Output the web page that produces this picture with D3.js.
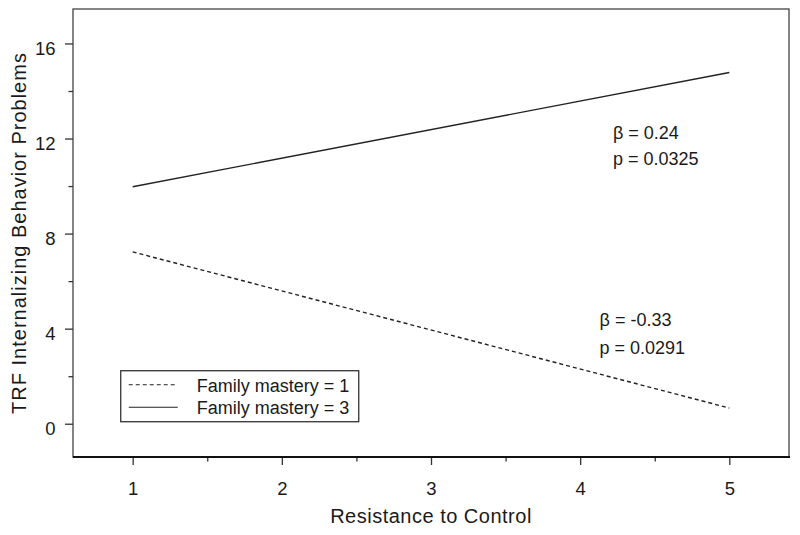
<!DOCTYPE html>
<html>
<head>
<meta charset="utf-8">
<script src="https://cdn.jsdelivr.net/npm/d3@7/dist/d3.min.js"></script>
<style>
  body { margin: 0; background: #fff; }
  svg text { font-family: "Liberation Sans", Arial, sans-serif; fill: #1a1a1a; }
</style>
</head>
<body>
<div id="chart"></div>
<script>
// data
var resistance = [1, 5];
var mastery1 = [7.23, 0.66];   // dashed
var mastery3 = [9.97, 14.78];  // solid
var xTicks = [1, 2, 3, 4, 5];
var xMinor = [1.5, 2.5, 3.5, 4.5];
var yTicks = [0, 4, 8, 12, 16];
var yMinor = [2, 6, 10, 14];
var seriesNames = ["Family mastery = 1", "Family mastery = 3"];
var notes = [
    {x: 4.22, y: 12.0, text: "\u03B2 = 0.24"},
    {x: 4.22, y: 10.9, text: "p = 0.0325"},
    {x: 4.13, y: 4.1, text: "\u03B2 = -0.33"},
    {x: 4.13, y: 2.92, text: "p = 0.0291"}
];

var cfg = {
    width: 800,
    height: 535,
    margin: {top: 9, right: 11, bottom: 78, left: 73}
};
var W = cfg.width - cfg.margin.left - cfg.margin.right,
    H = cfg.height - cfg.margin.top - cfg.margin.bottom;

var x = d3.scaleLinear().domain([0.6, 5.4]).range([0, W]);
var y = d3.scaleLinear().domain([-1.4, 17.45]).range([H, 0]);

var svg = d3.select("#chart").append("svg")
    .attr("width", cfg.width)
    .attr("height", cfg.height);

var g = svg.append("g")
    .attr("transform", "translate(" + cfg.margin.left + "," + cfg.margin.top + ")");

// frame
g.append("rect")
    .attr("x", 0).attr("y", 0)
    .attr("width", W).attr("height", H)
    .attr("fill", "none")
    .attr("stroke", "#444")
    .attr("stroke-width", 1.3);

// axes
var xAxis = g.append("g")
    .attr("transform", "translate(0," + H + ")")
    .call(d3.axisBottom(x).tickValues(xTicks).tickFormat(d3.format("d"))
          .tickSize(8).tickSizeOuter(0).tickPadding(16.5));
var xAxisMinor = g.append("g")
    .attr("transform", "translate(0," + H + ")")
    .call(d3.axisBottom(x).tickValues(xMinor).tickFormat("").tickSize(4.5).tickSizeOuter(0));

var yAxis = g.append("g")
    .call(d3.axisLeft(y).tickValues(yTicks).tickFormat(d3.format("d"))
          .tickSize(8).tickSizeOuter(0).tickPadding(9.5));
var yAxisMinor = g.append("g")
    .call(d3.axisLeft(y).tickValues(yMinor).tickFormat("").tickSize(4.5).tickSizeOuter(0));

[xAxis, xAxisMinor, yAxis, yAxisMinor].forEach(function(a) {
    a.select(".domain").remove();
    a.selectAll("line").attr("stroke", "#333").attr("stroke-width", 1.3);
    a.selectAll("text").style("font-size", "18.5px").attr("fill", "#1a1a1a");
});
yAxis.selectAll("text").attr("dy", "0.6em");

// thicker bottom axis line
g.append("line")
    .attr("x1", 0).attr("x2", W + 1)
    .attr("y1", H).attr("y2", H)
    .attr("stroke", "#111")
    .attr("stroke-width", 2);

// lines
var line = d3.line()
    .x(function(d) { return x(d[0]); })
    .y(function(d) { return y(d[1]); });

g.append("path")
    .datum(d3.zip(resistance, mastery3))
    .attr("d", line)
    .attr("fill", "none")
    .attr("stroke", "#222")
    .attr("stroke-width", 1.4);

g.append("path")
    .datum(d3.zip(resistance, mastery1))
    .attr("d", line)
    .attr("fill", "none")
    .attr("stroke", "#222")
    .attr("stroke-width", 1.4)
    .attr("stroke-dasharray", "4,3");

// annotations
g.selectAll(".note")
    .data(notes)
    .enter().append("text")
    .attr("class", "note")
    .attr("x", function(d) { return x(d.x); })
    .attr("y", function(d) { return y(d.y); })
    .style("font-size", "18px")
    .text(function(d) { return d.text; });

// legend
var legend = g.append("g")
    .attr("transform", "translate(" + x(0.92) + "," + y(2.23) + ")");
legend.append("rect")
    .attr("width", 238)
    .attr("height", 51)
    .attr("fill", "#fff")
    .attr("stroke", "#333")
    .attr("stroke-width", 1.3);
var items = legend.selectAll(".item")
    .data(seriesNames)
    .enter().append("g")
    .attr("class", "item")
    .attr("transform", function(d, i) { return "translate(0," + (14 + i * 22.5) + ")"; });
items.append("line")
    .attr("x1", 8).attr("x2", 57)
    .attr("y1", 0).attr("y2", 0)
    .attr("stroke", "#222")
    .attr("stroke-width", 1.2)
    .attr("stroke-dasharray", function(d, i) { return i == 0 ? "4,3" : null; });
items.append("text")
    .attr("x", 76)
    .attr("y", 7)
    .style("font-size", "18px")
    .text(function(d) { return d; });

// axis titles
g.append("text")
    .attr("x", W / 2)
    .attr("y", H + 66)
    .attr("text-anchor", "middle")
    .style("font-size", "20px")
    .style("letter-spacing", "0.5px")
    .text("Resistance to Control");

g.append("text")
    .attr("transform", "translate(" + (-47) + "," + (H / 2) + ") rotate(-90)")
    .attr("text-anchor", "middle")
    .style("font-size", "20px")
    .style("letter-spacing", "1px")
    .text("TRF Internalizing Behavior Problems");
</script>
</body>
</html>
